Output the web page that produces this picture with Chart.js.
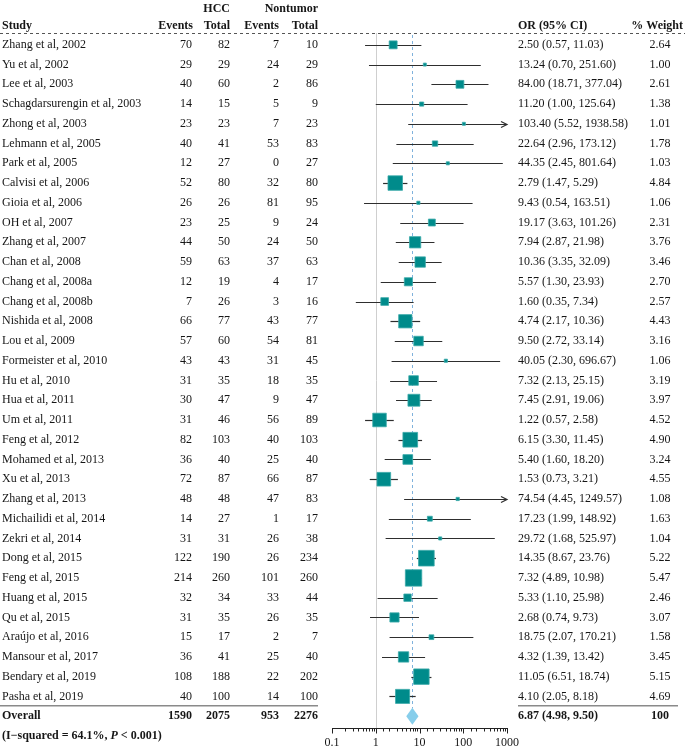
<!DOCTYPE html>
<html>
<head>
<meta charset="utf-8">
<script src="https://cdn.jsdelivr.net/npm/chart.js@4"></script>
<style>
  html, body { margin: 0; padding: 0; background: #fff; }
  #forest { display: block; }
</style>
</head>
<body>
<canvas id="forest" width="685" height="750"></canvas>
<script>
const studies = ['Zhang et al, 2002', 'Yu et al, 2002', 'Lee et al, 2003', 'Schagdarsurengin et al, 2003',
    'Zhong et al, 2003', 'Lehmann et al, 2005', 'Park et al, 2005', 'Calvisi et al, 2006', 'Gioia et al, 2006',
    'OH et al, 2007', 'Zhang et al, 2007', 'Chan et al, 2008', 'Chang et al, 2008a', 'Chang et al, 2008b',
    'Nishida et al, 2008', 'Lou et al, 2009', 'Formeister et al, 2010', 'Hu et al, 2010', 'Hua et al, 2011',
    'Um et al, 2011', 'Feng et al, 2012', 'Mohamed et al, 2013', 'Xu et al, 2013', 'Zhang et al, 2013',
    'Michailidi et al, 2014', 'Zekri et al, 2014', 'Dong et al, 2015', 'Feng et al, 2015', 'Huang et al, 2015',
    'Qu et al, 2015', 'Araújo et al, 2016', 'Mansour et al, 2017', 'Bendary et al, 2019', 'Pasha et al, 2019'];
const hccEvents = [70, 29, 40, 14, 23, 40, 12, 52, 26, 23, 44, 59, 12, 7, 66, 57, 43, 31, 30, 31, 82, 36, 72, 48, 14, 31, 122, 214, 32, 31, 15, 36, 108, 40];
const hccTotal = [82, 29, 60, 15, 23, 41, 27, 80, 26, 25, 50, 63, 19, 26, 77, 60, 43, 35, 47, 46, 103, 40, 87, 48, 27, 31, 190, 260, 34, 35, 17, 41, 188, 100];
const ntEvents = [7, 24, 2, 5, 7, 53, 0, 32, 81, 9, 24, 37, 4, 3, 43, 54, 31, 18, 9, 56, 40, 25, 66, 47, 1, 26, 26, 101, 33, 26, 2, 25, 22, 14];
const ntTotal = [10, 29, 86, 9, 23, 83, 27, 80, 95, 24, 50, 63, 17, 16, 77, 81, 45, 35, 47, 89, 103, 40, 87, 83, 17, 38, 234, 260, 44, 35, 7, 40, 202, 100];
const oddsRatio = [2.50, 13.24, 84.00, 11.20, 103.40, 22.64, 44.35, 2.79, 9.43, 19.17, 7.94, 10.36, 5.57, 1.60, 4.74, 9.50, 40.05, 7.32, 7.45, 1.22, 6.15, 5.40, 1.53, 74.54, 17.23, 29.72, 14.35, 7.32, 5.33, 2.68, 18.75, 4.32, 11.05, 4.10];
const ciLow = [0.57, 0.70, 18.71, 1.00, 5.52, 2.96, 2.45, 1.47, 0.54, 3.63, 2.87, 3.35, 1.30, 0.35, 2.17, 2.72, 2.30, 2.13, 2.91, 0.57, 3.30, 1.60, 0.73, 4.45, 1.99, 1.68, 8.67, 4.89, 1.10, 0.74, 2.07, 1.39, 6.51, 2.05];
const ciHigh = [11.03, 251.60, 377.04, 125.64, 1938.58, 173.12, 801.64, 5.29, 163.51, 101.26, 21.98, 32.09, 23.93, 7.34, 10.36, 33.14, 696.67, 25.15, 19.06, 2.58, 11.45, 18.20, 3.21, 1249.57, 148.92, 525.97, 23.76, 10.98, 25.98, 9.73, 170.21, 13.42, 18.74, 8.18];
const weights = [2.64, 1.00, 2.61, 1.38, 1.01, 1.78, 1.03, 4.84, 1.06, 2.31, 3.76, 3.46, 2.70, 2.57, 4.43, 3.16, 1.06, 3.19, 3.97, 4.52, 4.90, 3.24, 4.55, 1.08, 1.63, 1.04, 5.22, 5.47, 2.46, 3.07, 1.58, 3.45, 5.15, 4.69];
const overall = { or: 6.87, lo: 4.98, hi: 9.50, hccEvents: 1590, hccTotal: 2075, ntEvents: 953, ntTotal: 2276, weight: '100' };
const xTickLabels = [0.1, 1, 10, 100, 1000];

const serif = '"Liberation Serif", "Times New Roman", serif';
const textColor = '#161616';
const overallRow = studies.length;

function fmtCI(o, l, h) {
    return o.toFixed(2) + ' (' + l.toFixed(2) + ', ' + h.toFixed(2) + ')';
}

// reference lines and CI whiskers, under the squares
const whiskers = {
    id: 'whiskers',
    beforeDatasetsDraw(chart) {
        const { ctx, scales: { x, y }, chartArea } = chart;
        const xMax = x.max;
        ctx.save();
        // line of no effect
        const x1 = Math.round(x.getPixelForValue(1)) + 0.5;
        ctx.strokeStyle = '#cfcfcf';
        ctx.lineWidth = 1;
        ctx.beginPath();
        ctx.moveTo(x1, chartArea.top);
        ctx.lineTo(x1, chartArea.bottom);
        ctx.stroke();
        // overall estimate
        const xo = Math.round(x.getPixelForValue(overall.or)) + 0.5;
        ctx.strokeStyle = '#7fb2dc';
        ctx.setLineDash([3, 3]);
        ctx.beginPath();
        ctx.moveTo(xo, chartArea.top + 2);
        ctx.lineTo(xo, y.getPixelForValue(overallRow) - 8);
        ctx.stroke();
        ctx.setLineDash([]);
        // whiskers
        ctx.strokeStyle = '#2e2e2e';
        ctx.lineWidth = 1.2;
        studies.forEach((s, i) => {
            const py = Math.round(y.getPixelForValue(i)) + 0.5;
            const hiVal = Math.min(ciHigh[i], xMax);
            const pl = x.getPixelForValue(Math.max(ciLow[i], x.min));
            const ph = x.getPixelForValue(hiVal);
            ctx.beginPath();
            ctx.moveTo(pl, py);
            ctx.lineTo(ph, py);
            ctx.stroke();
            if (ciHigh[i] > xMax) {
                ctx.beginPath();
                ctx.moveTo(ph - 6, py - 3);
                ctx.lineTo(ph, py);
                ctx.lineTo(ph - 6, py + 3);
                ctx.stroke();
            }
        });
        ctx.restore();
    }
};

// pooled diamond and axis tick marks
const diamond = {
    id: 'diamond',
    afterDatasetsDraw(chart) {
        const { ctx, scales: { x, y }, chartArea } = chart;
        ctx.save();
        const py = y.getPixelForValue(overallRow);
        ctx.fillStyle = '#87ceeb';
        ctx.beginPath();
        ctx.moveTo(x.getPixelForValue(overall.lo), py);
        ctx.lineTo(x.getPixelForValue(overall.or), py - 8.5);
        ctx.lineTo(x.getPixelForValue(overall.hi), py);
        ctx.lineTo(x.getPixelForValue(overall.or), py + 8.5);
        ctx.closePath();
        ctx.fill();

        ctx.strokeStyle = '#222';
        ctx.lineWidth = 1;
        const ay = Math.round(chartArea.bottom) + 0.5;
        x.ticks.forEach(t => {
            const lg = Math.log10(t.value);
            const major = Math.abs(lg - Math.round(lg)) < 1e-6;
            const px = Math.round(x.getPixelForValue(t.value)) + 0.5;
            ctx.beginPath();
            ctx.moveTo(px, ay);
            ctx.lineTo(px, ay + (major ? 5 : 3));
            ctx.stroke();
        });
        ctx.restore();
    }
};

// table columns
const table = {
    id: 'table',
    afterDraw(chart) {
        const { ctx, scales: { y } } = chart;
        const W = chart.width;
        ctx.save();
        ctx.fillStyle = textColor;
        ctx.textBaseline = 'middle';
        const bold = 'bold 12px ' + serif;
        const normal = '12px ' + serif;

        // header
        ctx.font = bold;
        ctx.textAlign = 'right';
        ctx.fillText('HCC', 230, 9);
        ctx.fillText('Nontumor', 318, 9);
        ctx.textAlign = 'left';
        ctx.fillText('Study', 2, 26);
        ctx.fillText('OR (95% CI)', 518, 26);
        ctx.textAlign = 'right';
        ctx.fillText('Events', 193, 26);
        ctx.fillText('Total', 230, 26);
        ctx.fillText('Events', 279, 26);
        ctx.fillText('Total', 318, 26);
        ctx.fillText('% Weight', 683, 26);

        ctx.strokeStyle = '#555';
        ctx.lineWidth = 1;
        ctx.setLineDash([3, 3]);
        ctx.beginPath();
        ctx.moveTo(0, 33.5);
        ctx.lineTo(W, 33.5);
        ctx.stroke();
        ctx.setLineDash([]);

        // rows
        ctx.font = normal;
        studies.forEach((s, i) => {
            const py = y.getPixelForValue(i);
            ctx.textAlign = 'left';
            ctx.fillText(s, 2, py);
            ctx.fillText(fmtCI(oddsRatio[i], ciLow[i], ciHigh[i]), 518, py);
            ctx.textAlign = 'right';
            ctx.fillText(hccEvents[i], 192, py);
            ctx.fillText(hccTotal[i], 230, py);
            ctx.fillText(ntEvents[i], 279, py);
            ctx.fillText(ntTotal[i], 318, py);
            ctx.textAlign = 'center';
            ctx.fillText(weights[i].toFixed(2), 660, py);
        });

        // separator above overall
        const sepY = (y.getPixelForValue(overallRow - 1) + y.getPixelForValue(overallRow)) / 2 - 0.5;
        ctx.strokeStyle = '#8a8a8a';
        ctx.lineWidth = 1.5;
        ctx.beginPath();
        ctx.moveTo(0, sepY);
        ctx.lineTo(318, sepY);
        ctx.moveTo(518, sepY);
        ctx.lineTo(678, sepY);
        ctx.stroke();

        // overall row
        const oy = y.getPixelForValue(overallRow);
        ctx.font = bold;
        ctx.textAlign = 'left';
        ctx.fillText('Overall', 2, oy);
        ctx.fillText(fmtCI(overall.or, overall.lo, overall.hi), 518, oy);
        ctx.textAlign = 'right';
        ctx.fillText(overall.hccEvents, 192, oy);
        ctx.fillText(overall.hccTotal, 230, oy);
        ctx.fillText(overall.ntEvents, 279, oy);
        ctx.fillText(overall.ntTotal, 318, oy);
        ctx.textAlign = 'center';
        ctx.fillText(overall.weight, 660, oy);

        // heterogeneity
        const hy = y.getPixelForValue(overallRow + 1);
        ctx.textAlign = 'left';
        let px = 2;
        const parts = [['(I\u2212squared = 64.1%, ', bold], ['P', 'bold italic 12px ' + serif], [' < 0.001)', bold]];
        parts.forEach(([t, f]) => {
            ctx.font = f;
            ctx.fillText(t, px, hy);
            px += ctx.measureText(t).width;
        });
        ctx.restore();
    }
};

new Chart(document.getElementById('forest'), {
    type: 'scatter',
    data: {
        datasets: [{
            data: oddsRatio.map((v, i) => ({ x: v, y: i })),
            pointStyle: 'rect',
            pointRadius: weights.map(w => w * 3 / Math.SQRT2),
            pointHoverRadius: weights.map(w => w * 3 / Math.SQRT2),
            backgroundColor: '#008b8b',
            borderColor: '#3aa9a9',
            borderWidth: 0.8
        }]
    },
    options: {
        responsive: false,
        animation: false,
        events: [],
        layout: { padding: { left: 332, right: 178, top: 33, bottom: 0 } },
        scales: {
            x: {
                type: 'logarithmic',
                min: 0.1,
                max: 1000,
                grid: { display: false, drawTicks: false },
                border: { display: true, color: '#222', width: 1 },
                ticks: {
                    autoSkip: false,
                    maxRotation: 0,
                    padding: 8,
                    color: textColor,
                    font: { family: serif, size: 12 },
                    callback: function(value) {
                        const lg = Math.log10(value);
                        if (Math.abs(lg - Math.round(lg)) < 1e-6) {
                            const v = xTickLabels[Math.round(lg) + 1];
                            return v === undefined ? '' : String(v);
                        }
                        return '';
                    }
                },
                afterFit: s => { s.height = 22; }
            },
            y: {
                type: 'linear',
                reverse: true,
                min: -0.6,
                max: 34.6,
                display: false
            }
        },
        plugins: {
            legend: { display: false },
            tooltip: { enabled: false }
        }
    },
    plugins: [whiskers, diamond, table]
});
</script>
</body>
</html>
